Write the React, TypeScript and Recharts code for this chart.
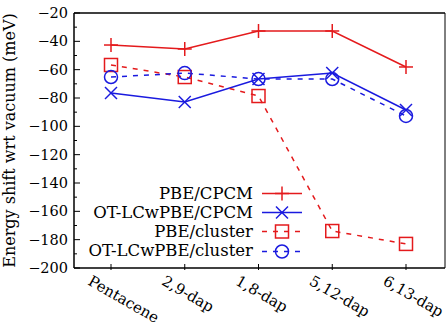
import React from 'react';
import { LineChart, Line, XAxis, YAxis, ReferenceLine } from 'recharts';

const categories = ['Pentacene', '2,9-dap', '1,8-dap', '5,12-dap', '6,13-dap'];
const pbeCpcm = [-42.6, -45.4, -32.7, -32.7, -58.1];
const otCpcm = [-76.5, -82.8, -66.6, -62.4, -88.5];
const pbeCluster = [-56.7, -65.2, -78.6, -173.9, -183.0];
const otCluster = [-65.2, -62.4, -66.6, -66.6, -92.7];
const yTicks = [-200, -190, -180, -170, -160, -150, -140, -130, -120, -110, -100, -90, -80, -70, -60, -50, -40, -30, -20];

const RED = '#e41a1c';
const BLUE = '#1a1adf';
const FONT = '"DejaVu Serif", serif';

const chartData = categories.map((name, i) => ({
  name,
  pbeCpcm: pbeCpcm[i],
  otCpcm: otCpcm[i],
  pbeCluster: pbeCluster[i],
  otCluster: otCluster[i],
}));

const Plus = ({ cx, cy, color }: any) => (
  <g stroke={color} strokeWidth={1.5}>
    <line x1={cx - 7} y1={cy} x2={cx + 7} y2={cy} />
    <line x1={cx} y1={cy - 7} x2={cx} y2={cy + 7} />
  </g>
);
const Cross = ({ cx, cy, color }: any) => (
  <g stroke={color} strokeWidth={1.5}>
    <line x1={cx - 6} y1={cy - 6} x2={cx + 6} y2={cy + 6} />
    <line x1={cx - 6} y1={cy + 6} x2={cx + 6} y2={cy - 6} />
  </g>
);
const Square = ({ cx, cy, color }: any) => (
  <rect x={cx - 6.5} y={cy - 6.5} width={13} height={13} fill="none" stroke={color} strokeWidth={1.5} />
);
const Circle = ({ cx, cy, color }: any) => (
  <circle cx={cx} cy={cy} r={6.5} fill="none" stroke={color} strokeWidth={1.5} />
);

const dot = (Shape: any, color: string) => (p: any) => <Shape key={p.index} cx={p.cx} cy={p.cy} color={color} />;

const LeftTick = (p: any) => {
  const v = p.payload.value;
  const major = v % 20 === 0;
  return (
    <g>
      <line x1={p.x} y1={p.y} x2={p.x + (major ? 6 : 3)} y2={p.y} stroke="#000" />
      {major && (
        <text x={p.x - 6} y={p.y + 5} textAnchor="end" fontSize={14.5} fontFamily={FONT} fill="#000">
          {v < 0 ? '\u2212' + Math.abs(v) : v}
        </text>
      )}
    </g>
  );
};

const RightTick = (p: any) => {
  const v = p.payload.value;
  const major = v % 20 === 0;
  return <line x1={p.x} y1={p.y} x2={p.x - (major ? 6 : 3)} y2={p.y} stroke="#000" />;
};

const BottomTick = (p: any) => {
  const tx = p.x - 24;
  const ty = p.y + 14;
  return (
    <g>
      <line x1={p.x} y1={p.y} x2={p.x} y2={p.y - 6} stroke="#000" />
      <text x={tx} y={ty} transform={`rotate(30 ${tx} ${ty})`} textAnchor="start" fontSize={15} fontFamily={FONT} fill="#000">
        {p.payload.value}
      </text>
    </g>
  );
};

const legendItems = [
  { label: 'PBE/CPCM', color: RED, dash: undefined, Shape: Plus },
  { label: 'OT-LCwPBE/CPCM', color: BLUE, dash: undefined, Shape: Cross },
  { label: 'PBE/cluster', color: RED, dash: '5 6', Shape: Square },
  { label: 'OT-LCwPBE/cluster', color: BLUE, dash: '5 6', Shape: Circle },
];

const LegendBox = () => (
  <div style={{ position: 'absolute', left: 0, top: 183.5, width: 302, fontFamily: FONT, fontSize: 16.5, lineHeight: '19.3px' }}>
    {legendItems.map((it) => (
      <div key={it.label} style={{ display: 'flex', justifyContent: 'flex-end', alignItems: 'center', height: 19.3 }}>
        <span style={{ marginRight: 9 }}>{it.label}</span>
        <svg width={40} height={19} style={{ display: 'block' }}>
          <line x1={0} y1={9.5} x2={40} y2={9.5} stroke={it.color} strokeWidth={1.5} strokeDasharray={it.dash} />
          <it.Shape cx={20} cy={9.5} color={it.color} />
        </svg>
      </div>
    ))}
  </div>
);

export default function App() {
  return (
    <div style={{ position: 'absolute', left: 0, top: 0, width: 448, height: 322, background: '#fff' }}>
      <LineChart width={448} height={322} data={chartData} margin={{ top: 13, right: 0, left: 0, bottom: 0 }}>
        <XAxis
          dataKey="name"
          height={54}
          padding={{ left: 37, right: 39 }}
          tickLine={false}
          tickSize={0}
          tick={BottomTick}
          interval={0}
          axisLine={{ stroke: '#000', strokeWidth: 1.5 }}
        />
        <YAxis
          yAxisId="l"
          domain={[-200, -20]}
          ticks={yTicks}
          interval={0}
          width={74}
          tickLine={false}
          tickSize={0}
          tickMargin={0}
          tick={LeftTick}
          axisLine={{ stroke: '#000', strokeWidth: 1.5 }}
          label={{
            value: 'Energy shift wrt vacuum (meV)',
            angle: -90,
            position: 'insideLeft',
            offset: 9,
            style: { textAnchor: 'middle', fontFamily: FONT, fontSize: 16, fill: '#000' },
          }}
        />
        <YAxis
          yAxisId="r"
          orientation="right"
          domain={[-200, -20]}
          ticks={yTicks}
          interval={0}
          width={3}
          tickLine={false}
          tickSize={0}
          tickMargin={0}
          tick={RightTick}
          axisLine={{ stroke: '#000', strokeWidth: 1 }}
        />
        <ReferenceLine yAxisId="l" y={-20} stroke="#000" strokeWidth={1.5} />
        <Line yAxisId="l" dataKey="pbeCpcm" stroke={RED} strokeWidth={1.5} dot={dot(Plus, RED)} isAnimationActive={false} />
        <Line yAxisId="l" dataKey="otCpcm" stroke={BLUE} strokeWidth={1.5} dot={dot(Cross, BLUE)} isAnimationActive={false} />
        <Line yAxisId="l" dataKey="pbeCluster" stroke={RED} strokeWidth={1.5} strokeDasharray="5 6" dot={dot(Square, RED)} isAnimationActive={false} />
        <Line yAxisId="l" dataKey="otCluster" stroke={BLUE} strokeWidth={1.5} strokeDasharray="5 6" dot={dot(Circle, BLUE)} isAnimationActive={false} />
      </LineChart>
      <LegendBox />
    </div>
  );
}
